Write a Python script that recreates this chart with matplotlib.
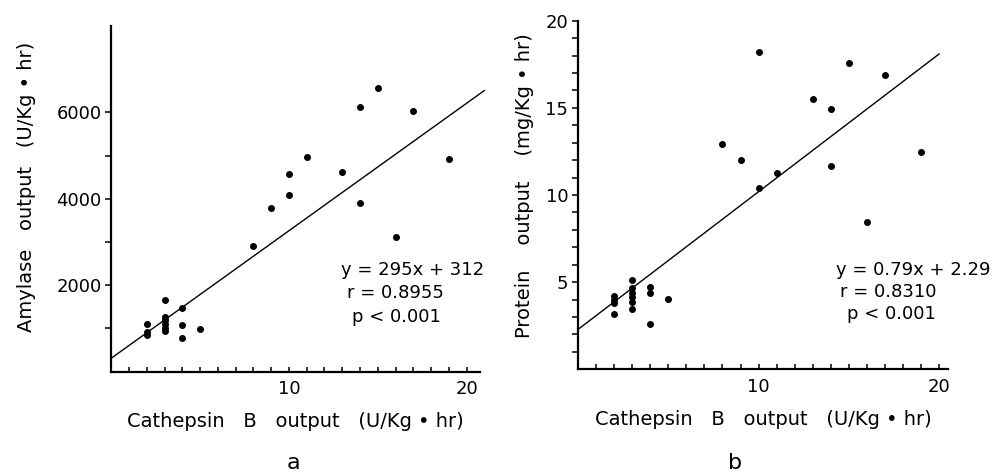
import matplotlib
matplotlib.use("Agg")
import matplotlib.pyplot as plt
import numpy as np
from matplotlib.ticker import MultipleLocator, FixedLocator

# panel a: cathepsin B vs amylase
a_x = [2, 2, 2, 3, 3, 3, 3, 3, 3, 4, 4, 4, 5,
       8, 9, 10, 10, 11, 13, 14, 14, 15, 16, 17, 19]
a_y = [1110, 920, 840, 1670, 1270, 1190, 1115, 1020, 940, 1480, 1080, 780, 985,
       2920, 3780, 4580, 4100, 4960, 4620, 6130, 3900, 6560, 3110, 6030, 4930]
a_fit = (295, 312)
a_text = ["y = 295x + 312", "r = 0.8955", "p < 0.001"]
a_yticks = [2000, 4000, 6000]
a_yminor = [1000, 3000, 5000]

# panel b: cathepsin B vs protein
b_x = [2, 2, 2, 2, 3, 3, 3, 3, 3, 3, 4, 4, 4, 5,
       8, 9, 10, 10, 11, 13, 14, 14, 15, 16, 17, 19]
b_y = [4.22, 3.99, 3.80, 3.17, 5.13, 4.66, 4.37, 4.13, 3.86, 3.46, 4.75, 4.37, 2.62, 4.03,
       12.95, 11.98, 18.21, 10.4, 11.24, 15.48, 14.92, 11.67, 17.59, 8.48, 16.9, 12.47]
b_fit = (0.79, 2.29)
b_text = ["y = 0.79x + 2.29", "r = 0.8310", "p < 0.001"]
b_yticks = [5, 10, 15, 20]
b_yminor = list(range(1, 20))

xlabel = "Cathepsin   B   output   (U/Kg \u2022 hr)"
fs = 13
lfs = 14

fig = plt.figure(figsize=(9.91, 4.75), dpi=100)
ax1 = fig.add_axes([0.1123, 0.2175, 0.372, 0.7278])
ax2 = fig.add_axes([0.5833, 0.2225, 0.3734, 0.7339])


def style(ax, xmax, ymax, yticks, yminor):
    ax.set_xlim(0, xmax)
    ax.set_ylim(0, ymax)
    for s in ["top", "right"]:
        ax.spines[s].set_visible(False)
    for s in ["left", "bottom"]:
        ax.spines[s].set_linewidth(1.6)
    ax.set_xticks([10, 20])
    ax.xaxis.set_minor_locator(MultipleLocator(1))
    ax.set_yticks(yticks)
    ax.yaxis.set_minor_locator(FixedLocator(yminor))
    ax.tick_params(axis="x", which="both", direction="in", length=3.5, width=1.1,
                   labelsize=fs, pad=6)
    ax.tick_params(axis="y", which="both", direction="out", length=4, width=1.1,
                   labelsize=fs, pad=3)


# panel a
ax1.plot(a_x, a_y, "o", color="black", ms=4)
lx = np.array([0, 21])
ax1.plot(lx, a_fit[0] * lx + a_fit[1], color="black", lw=1.0, clip_on=False)
style(ax1, 20.75, 8000, a_yticks, a_yminor)
ax1.set_xlabel(xlabel, fontsize=lfs, labelpad=10)
ax1.set_ylabel("Amylase   output   (U/Kg \u2022 hr)", fontsize=lfs)
ax1.yaxis.set_label_coords(-0.205, 0.535)
for i, (t, dx) in enumerate(zip(a_text, [0, 6, 11])):
    fig.text((341 + dx) / 991, 1 - (270 + 23.5 * i) / 475, t, fontsize=fs,
             va="center", ha="left")
fig.text(293 / 991, 1 - 463 / 475, "a", fontsize=16, ha="center", va="center")

# panel b
ax2.plot(b_x, b_y, "o", color="black", ms=4)
lx = np.array([0, 20])
ax2.plot(lx, b_fit[0] * lx + b_fit[1], color="black", lw=1.0, clip_on=False)
style(ax2, 20.5, 20, b_yticks, b_yminor)
ax2.set_xlabel(xlabel, fontsize=lfs, labelpad=10)
ax2.set_ylabel("Protein    output    (mg/Kg \u2022 hr)", fontsize=lfs)
ax2.yaxis.set_label_coords(-0.12, 0.526)
for i, (t, dx) in enumerate(zip(b_text, [0, 4, 11])):
    fig.text((836 + dx) / 991, 1 - (270 + 22 * i) / 475, t, fontsize=fs,
             va="center", ha="left")
fig.text(735 / 991, 1 - 463 / 475, "b", fontsize=16, ha="center", va="center")

fig.savefig("out.png", dpi=100)
